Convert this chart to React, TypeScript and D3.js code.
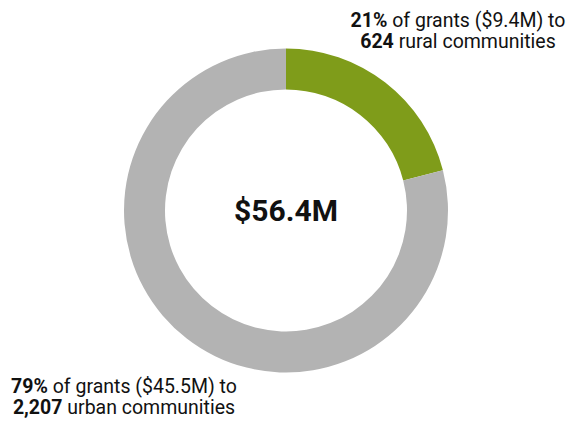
import { useMemo } from 'react';
import * as d3 from 'd3';

const WIDTH = 569;
const HEIGHT = 421;

// shares of grant dollars, clockwise from 12 o'clock
const categories = ['rural', 'urban'];
const shares = [21, 79];
const colours = ['#7f9c1a', '#b3b3b3'];

const totalLabel = '$56.4M';
const ruralLines = [
    { bold: '21%', rest: ' of grants ($9.4M) to' },
    { bold: '624', rest: ' rural communities' },
];
const urbanLines = [
    { bold: '79%', rest: ' of grants ($45.5M) to' },
    { bold: '2,207', rest: ' urban communities' },
];

const FONT = 'Roboto, "Noto Sans", sans-serif';

function Note(props: { x: number; y: number; lines: { bold: string; rest: string }[] }) {
    const { x, y, lines } = props;
    return (
        <text x={x} y={y} textAnchor="middle" fontSize={19.5} fill="#111" fontFamily={FONT}>
            {lines.map((l, i) => (
                <tspan key={i} x={x} dy={i === 0 ? 0 : 21}>
                    <tspan fontWeight="bold">{l.bold}</tspan>
                    {l.rest}
                </tspan>
            ))}
        </text>
    );
}

export default function App() {
    const cx = 286;
    const cy = 210.5;
    const outer = 162;
    const inner = 121;

    const arcs = useMemo(() => {
        const pie = d3.pie<number>().sort(null).value((d) => d);
        const arc = d3.arc<d3.PieArcDatum<number>>().innerRadius(inner).outerRadius(outer);
        return pie(shares).map((p, i) => ({
            d: arc(p) || '',
            fill: colours[i],
            key: categories[i],
        }));
    }, []);

    return (
        <svg
            width={WIDTH}
            height={HEIGHT}
            viewBox={`0 0 ${WIDTH} ${HEIGHT}`}
            style={{ position: 'absolute', left: 0, top: 0, background: '#fff' }}
        >
            <g transform={`translate(${cx}, ${cy})`}>
                {arcs.map((a) => (
                    <path key={a.key} d={a.d} fill={a.fill} />
                ))}
                <text
                    y={10.5}
                    textAnchor="middle"
                    fontSize={30}
                    fontWeight="bold"
                    fill="#111"
                    fontFamily={FONT}
                >
                    {totalLabel}
                </text>
            </g>
            <Note x={458} y={27} lines={ruralLines} />
            <Note x={124} y={393} lines={urbanLines} />
        </svg>
    );
}
